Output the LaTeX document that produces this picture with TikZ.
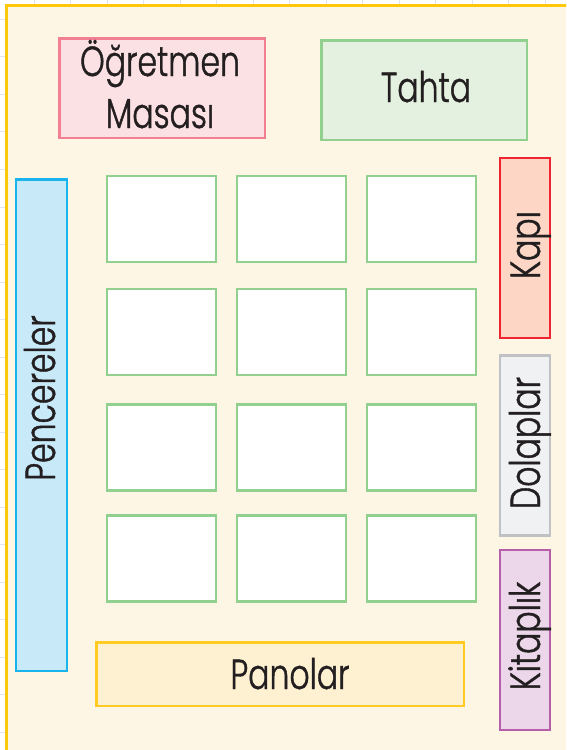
\documentclass[tikz,border=0pt]{standalone}
\usepackage{fontspec}
\IfFontExistsTF{Poppins Light}{\setmainfont{Poppins Light}[FakeStretch=0.75,FakeBold=1.0]}{\setmainfont{Poppins}[FakeStretch=0.75]}
\definecolor{sheetfill}{HTML}{FEF6E5}
\definecolor{sheetline}{HTML}{FFC80A}
\definecolor{gridc}{HTML}{DCE6F2}
\definecolor{pinkfill}{HTML}{FCE1E4}
\definecolor{pinkline}{HTML}{F27F94}
\definecolor{greenfill}{HTML}{E5F1E0}
\definecolor{greenline}{HTML}{92D08F}
\definecolor{bluefill}{HTML}{C7E9F8}
\definecolor{blueline}{HTML}{1AB4EC}
\definecolor{redfill}{HTML}{FDD6C5}
\definecolor{redline}{HTML}{EE2530}
\definecolor{grayfill}{HTML}{F0F1F3}
\definecolor{grayline}{HTML}{BFC1C4}
\definecolor{purplefill}{HTML}{ECD6E9}
\definecolor{purpleline}{HTML}{B75EAB}
\definecolor{panofill}{HTML}{FEF1D2}
\definecolor{panoline}{HTML}{FFCB22}
\definecolor{ink}{HTML}{231F20}
\begin{document}
\begin{tikzpicture}[x=1pt,y=-1pt,
  box/.style={draw,rectangle,line width=2.5pt,inner sep=0pt,outer sep=0pt},
  desk/.style={box,fill=white,draw=greenline,minimum width=109pt,minimum height=86pt},
  side/.style={box,minimum width=50pt,minimum height=180pt},
  lbl/.style={text=ink,font=\fontsize{42}{52}\selectfont,inner sep=0pt,anchor=base},
  vlbl/.style={lbl,rotate=90}]
\useasboundingbox (0,0) rectangle (566,750);
\begin{scope}
\clip (0,0) rectangle (566,750);
% background grid
\foreach \k in {0,...,19} \draw[gridc,line width=0.8pt] (0,19.3+37.53*\k) -- (566,19.3+37.53*\k);
\foreach \k in {0,...,14} \draw[gridc,line width=0.8pt] (34+36.5*\k,0) -- (34+36.5*\k,750);
% sheet
\draw[fill=sheetfill,draw=sheetline,line width=3pt] (6.5,5.5) rectangle (620,800);
\end{scope}
% furniture
\node[box,fill=pinkfill,draw=pinkline,minimum width=205.5pt,minimum height=99.5pt] (desk0) at (162,88) {};
\node[lbl] (t1) at (160,76) {Öğretmen};
\node[lbl] (t2) at (160,128) {Masası};
\node[box,fill=greenfill,draw=greenline,minimum width=205.5pt,minimum height=99.5pt] (board) at (424,90) {};
\node[lbl] (t3) at (426,102) {Tahta};
\node[box,fill=bluefill,draw=blueline,minimum width=51pt,minimum height=491.5pt] (win) at (41.5,425) {};
\node[vlbl] (t4) at (55,398) {Pencereler};
\foreach \c/\x in {1/161.5,2/291.5,3/421.5}
  \foreach \r/\y in {1/219,2/332,3/447.5,4/558.5}
    \node[desk] (d\r\c) at (\x,\y) {};
\node[side,fill=redfill,draw=redline] (door) at (525,248) {};
\node[vlbl] (t5) at (540,245) {Kapı};
\node[side,fill=grayfill,draw=grayline] (cab) at (525,445.5) {};
\node[vlbl] (t6) at (540,443) {Dolaplar};
\node[side,fill=purplefill,draw=purpleline] (shelf) at (525,640) {};
\node[vlbl] (t7) at (540,636) {Kitaplık};
\node[box,fill=panofill,draw=panoline,minimum width=367.5pt,minimum height=63.5pt] (pano) at (280,674) {};
\node[lbl] (t8) at (290,689) {Panolar};
\end{tikzpicture}
\end{document}
